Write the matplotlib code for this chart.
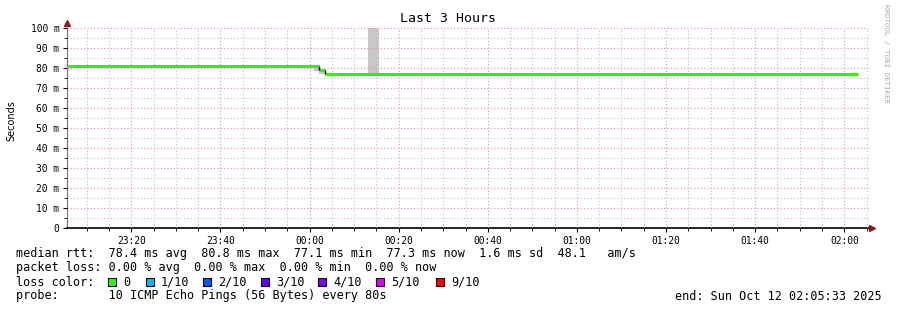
import matplotlib.pyplot as plt
import matplotlib.dates as mdates
from matplotlib.ticker import FuncFormatter, MultipleLocator
from datetime import datetime

# Zeitfenster (3 Stunden bis "end")
t_start = datetime(2025, 10, 11, 23, 5, 33)
t_end = datetime(2025, 10, 12, 2, 5, 33)

# Median RTT in ms (Stufen)
median_times = [datetime(2025, 10, 11, 23, 0, 0), datetime(2025, 10, 12, 0, 2, 6),
                datetime(2025, 10, 12, 0, 3, 33), datetime(2025, 10, 12, 2, 3, 0)]
median_values = [80.8, 79.0, 77.1]

# Smoke: Streuung der Pings in ms
smoke_start = [datetime(2025, 10, 12, 0, 0, 57), datetime(2025, 10, 12, 0, 2, 6),
               datetime(2025, 10, 12, 0, 13, 3)]
smoke_end = [datetime(2025, 10, 12, 0, 2, 6), datetime(2025, 10, 12, 0, 3, 33),
             datetime(2025, 10, 12, 0, 15, 40)]
smoke_low = [78.6, 77.2, 77.1]
smoke_high = [80.8, 78.6, 110.0]

# Legende
legend_lines = [
    "median rtt:  78.4 ms avg  80.8 ms max  77.1 ms min  77.3 ms now  1.6 ms sd  48.1   am/s",
    "packet loss: 0.00 % avg  0.00 % max  0.00 % min  0.00 % now",
    "loss color:",
    "probe:       10 ICMP Echo Pings (56 Bytes) every 80s",
]
loss_labels = ["0", "1/10", "2/10", "3/10", "4/10", "5/10", "9/10"]
loss_colors = ["#26ff00", "#00b8ff", "#0059ff", "#5e00ff", "#7e00ff", "#dd00ff", "#ff0000"]
loss_box_x = [108, 146, 203, 261, 318, 376, 436]
end_text = "end: Sun Oct 12 02:05:33 2025"

W, H = 897, 310
mono = "DejaVu Sans Mono"

fig = plt.figure(figsize=(W / 100, H / 100), dpi=100)
fig.patch.set_facecolor("white")
ax = fig.add_axes([67 / W, 1 - 228 / H, 802 / W, 200 / H])

# Smoke
for s, e, lo, hi in zip(smoke_start, smoke_end, smoke_low, smoke_high):
    x0 = mdates.date2num(s)
    x1 = mdates.date2num(e)
    ax.bar(x0, hi - lo, bottom=lo, width=x1 - x0, align="edge",
           color="#c8c8c8", linewidth=0, zorder=1)

# Median-Linie
ax.hlines(median_values, median_times[:-1], median_times[1:],
          color=loss_colors[0], lw=2.2, zorder=3)
ax.vlines(median_times[1:-1], median_values[1:], median_values[:-1],
          color="black", lw=1, zorder=4)

ax.set_xlim(t_start, t_end)
ax.set_ylim(0, 100)

ax.xaxis.set_major_locator(mdates.MinuteLocator(byminute=[0, 20, 40]))
ax.xaxis.set_minor_locator(mdates.MinuteLocator(byminute=range(0, 60, 5)))
ax.xaxis.set_major_formatter(mdates.DateFormatter("%H:%M"))
ax.yaxis.set_major_locator(MultipleLocator(10))
ax.yaxis.set_minor_locator(MultipleLocator(5))
ax.yaxis.set_major_formatter(FuncFormatter(lambda v, p: "0" if v == 0 else f"{v:.0f} m"))

ax.set_axisbelow(False)
ax.grid(which="major", color="#f09090", linestyle=(0, (1, 2)), lw=0.8)
ax.grid(which="minor", color="#c0c0c0", linestyle=(0, (1, 2)), lw=0.8)

for sp in ["top", "right"]:
    ax.spines[sp].set_visible(False)
ax.spines["left"].set_color("#707070")
ax.spines["bottom"].set_color("black")
ax.spines["bottom"].set_linewidth(1.2)

ax.tick_params(which="major", length=3, width=0.8, pad=2.5, labelsize=6.9)
ax.tick_params(which="minor", length=2, width=0.6)
for lab in ax.get_xticklabels() + ax.get_yticklabels():
    lab.set_family(mono)

# Pfeile an den Achsenenden
ax.plot([0], [1.025], marker="^", color="#8b1a1a", markersize=4, transform=ax.transAxes, clip_on=False)
ax.plot([1.004], [0], marker=">", color="#8b1a1a", markersize=4, transform=ax.transAxes, clip_on=False)

fig.text(11 / W, 1 - 121 / H, "Seconds", rotation=90, ha="center", va="center", fontsize=7)

fig.text(448 / W, 1 - 19 / H, "Last 3 Hours", ha="center", va="center",
         fontsize=9.5, family=mono)
fig.text(886 / W, 1 - 4 / H, "RRDTOOL / TOBI OETIKER", rotation=-90, ha="center",
         va="top", fontsize=5.4, family=mono, color="#aaaaaa")

rows_y = [254, 268, 282, 296]
for txt, y in zip(legend_lines, rows_y):
    fig.text(16 / W, 1 - y / H, txt, ha="left", va="center", fontsize=8.5, family=mono)

for bx, lab, col in zip(loss_box_x, loss_labels, loss_colors):
    fig.patches.append(plt.Rectangle((bx / W, 1 - 286 / H), 8 / W, 8 / H,
                                     transform=fig.transFigure, facecolor=col,
                                     edgecolor="black", lw=0.8))
    fig.text((bx + 15) / W, 1 - 282 / H, lab, ha="left", va="center",
             fontsize=8.5, family=mono)

fig.text(882 / W, 1 - 296 / H, end_text, ha="right", va="center", fontsize=8.5, family=mono)

fig.savefig("out.png", dpi=100)
